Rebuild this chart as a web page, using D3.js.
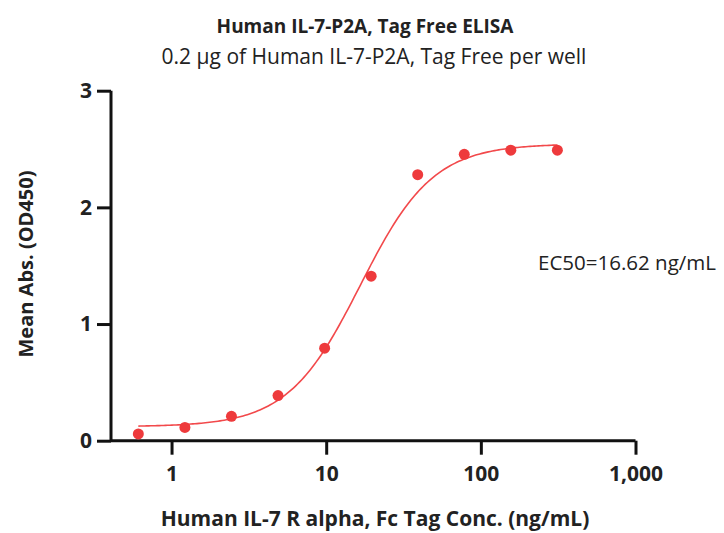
<!DOCTYPE html>
<html>
<head>
<meta charset="utf-8">
<script src="https://cdn.jsdelivr.net/npm/d3@7"></script>
<style>
  body { margin: 0; background: #fff; }
  text { font-family: "Open Sans", sans-serif; fill: #222; }
</style>
</head>
<body>
<div id="chart"></div>
<script>
// measured points (2-fold dilution series)
var conc = [0.61, 1.22, 2.44, 4.88, 9.77, 19.53, 39.06, 78.13, 156.25, 312.5]
var absorb = [0.058, 0.114, 0.209, 0.387, 0.793, 1.41, 2.28, 2.455, 2.49, 2.49]

// 4PL fit parameters
var fitBottom = 0.12, fitTop = 2.545, fitEC50 = 16.62, fitHill = 1.85

var xTicks = [1, 10, 100, 1000]
var yTicks = [0, 1, 2, 3]

var width = 724, height = 533

var svg = d3.select("#chart")
  .append("svg")
  .attr("width", width)
  .attr("height", height)

var x = d3.scaleLog()
  .domain([0.406, 1000])
  .range([111, 635.5])

var y = d3.scaleLinear()
  .domain([0, 3])
  .range([440.7, 90.7])

// axes
var xAxis = svg.append("g")
  .attr("transform", "translate(0," + y(0) + ")")
  .call(d3.axisBottom(x).tickValues(xTicks).tickSize(14).tickPadding(11)
    .tickFormat(d3.format(",")))
var yAxis = svg.append("g")
  .attr("transform", "translate(" + x.range()[0] + ",0)")
  .call(d3.axisLeft(y).tickValues(yTicks).tickSize(14).tickPadding(5)
    .tickFormat(d3.format("d")))

;[xAxis, yAxis].forEach(function(a){
  a.select(".domain").attr("stroke", "#111").attr("stroke-width", 3)
  a.selectAll(".tick line").attr("stroke", "#111").attr("stroke-width", 3)
  a.selectAll(".tick text")
    .style("font-family", "'Open Sans', sans-serif")
    .style("font-size", "21px")
    .style("font-weight", "bold")
    .attr("fill", "#222")
})
xAxis.select(".domain").attr("d", "M" + x.range()[0] + ",0H" + x.range()[1])
yAxis.select(".domain").attr("d", "M0," + y.range()[0] + "V" + y.range()[1])

// fitted curve
function fourPL(c) {
  return fitBottom + (fitTop - fitBottom) / (1 + Math.pow(fitEC50 / c, fitHill))
}
var lo = Math.log10(conc[0]), hi = Math.log10(conc[conc.length - 1])
var curve = d3.range(0, 201).map(function(i){
  var c = Math.pow(10, lo + (hi - lo) * i / 200)
  return [c, fourPL(c)]
})
svg.append("path")
  .datum(curve)
  .attr("fill", "none")
  .attr("stroke", "#f2494b")
  .attr("stroke-width", 1.6)
  .attr("d", d3.line().x(function(d){ return x(d[0]) }).y(function(d){ return y(d[1]) }))

// points
svg.selectAll("circle.pt")
  .data(conc)
  .enter()
  .append("circle")
    .attr("class", "pt")
    .attr("cx", function(d){ return x(d) })
    .attr("cy", function(d, i){ return y(absorb[i]) })
    .attr("r", 5.5)
    .attr("fill", "#ee3a3c")

// titles
svg.append("text")
  .attr("x", 365).attr("y", 33)
  .attr("text-anchor", "middle")
  .style("font-size", "19px").style("font-weight", "bold")
  .text("Human IL-7-P2A, Tag Free ELISA")
svg.append("text")
  .attr("x", 374).attr("y", 64)
  .attr("text-anchor", "middle")
  .style("font-size", "21px")
  .attr("fill", "#333")
  .text("0.2 μg of Human IL-7-P2A, Tag Free per well")

svg.append("text")
  .attr("transform", "translate(33,264) rotate(-90)")
  .attr("text-anchor", "middle")
  .style("font-size", "20px").style("font-weight", "bold")
  .text("Mean Abs. (OD450)")

svg.append("text")
  .attr("x", 375).attr("y", 526)
  .attr("text-anchor", "middle")
  .style("font-size", "21px").style("font-weight", "bold")
  .text("Human IL-7 R alpha, Fc Tag Conc. (ng/mL)")

svg.append("text")
  .attr("x", 538).attr("y", 270)
  .style("font-size", "20.5px")
  .attr("fill", "#333")
  .text("EC50=16.62 ng/mL")
</script>
</body>
</html>
